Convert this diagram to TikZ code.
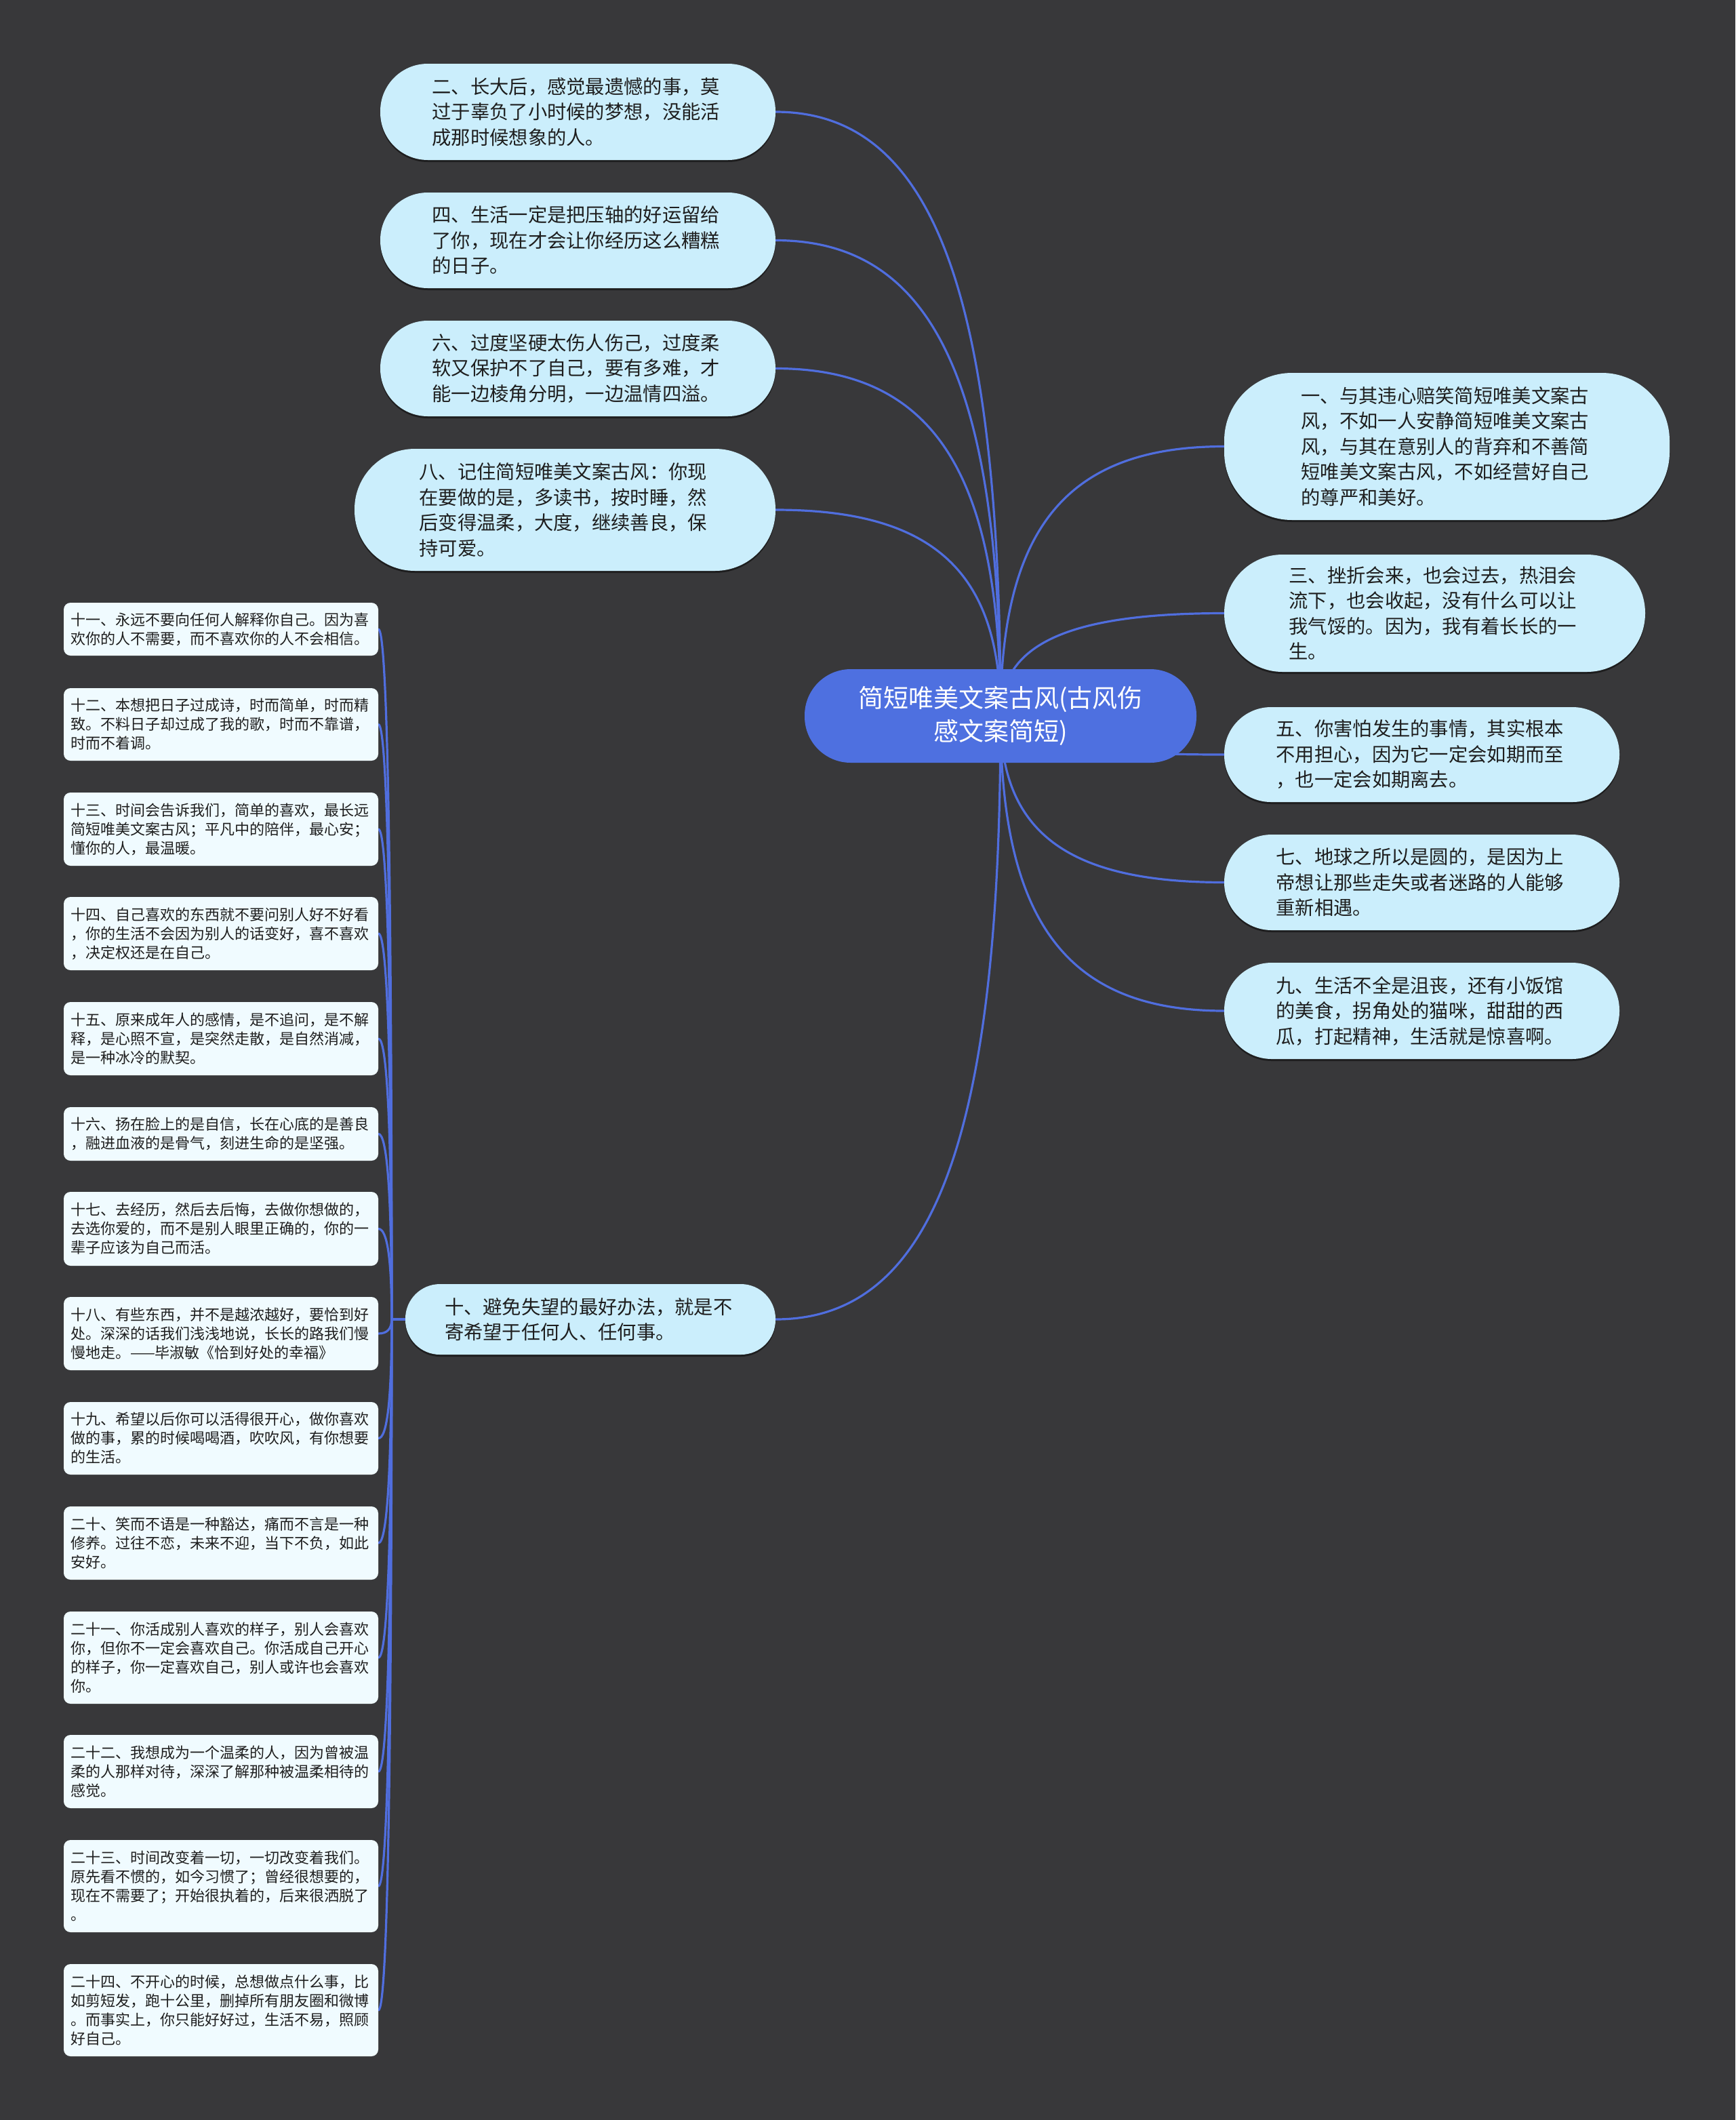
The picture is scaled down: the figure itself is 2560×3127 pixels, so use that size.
\documentclass[tikz,border=0pt]{standalone}
\usepackage{fontspec}
\setmainfont{Noto Sans CJK SC}
\usetikzlibrary{calc,shadows}
\definecolor{bgc}{RGB}{56,56,58}
\definecolor{rootc}{RGB}{78,112,224}
\definecolor{linkc}{RGB}{80,110,222}
\definecolor{bigc}{RGB}{203,238,252}
\definecolor{smallc}{RGB}{240,251,255}
\definecolor{txtc}{RGB}{30,30,30}
\pgfdeclarelayer{back}
\pgfdeclarelayer{links}
\pgfsetlayers{back,links,main}
\tikzset{
  rootbox/.style={rectangle, fill=rootc, text=white, inner sep=0pt, align=center,
    font=\fontsize{37}{49}\selectfont, minimum width=578pt, minimum height=138pt, rounded corners=68pt},
  bigbox/.style={rectangle, fill=bigc, text=txtc, inner sep=0pt, align=left, text width=430pt,
    font=\fontsize{28.3}{37.5}\selectfont,
    drop shadow={opacity=0.45, shadow xshift=0pt, shadow yshift=-3pt, fill=black}},
  smallbox/.style={rectangle, fill=smallc, text=txtc, inner sep=0pt, align=left, text width=444pt,
    font=\fontsize{22}{28}\selectfont, minimum width=464pt, rounded corners=10pt},
  conn/.style={draw=linkc, line width=3.2pt, line cap=round},
}
\newcommand\rootlink[1]{\draw[conn] (root.center) .. controls ($(root.center)!0.7!(root.center |- #1)$) and ($(#1)!0.7!(root.center |- #1)$) .. (#1);}
\newcommand\spinelink[1]{\draw[conn] (spine) .. controls ($(spine)!0.667!(spine |- #1.east)$) and ($(#1.east)!0.667!(spine |- #1.east)$) .. (#1.east);}
\begin{document}
\begin{tikzpicture}[x=1pt,y=-1pt]
\begin{pgfonlayer}{back}
\fill[bgc] (0,0) rectangle (2560,3127);
\end{pgfonlayer}
\useasboundingbox (0,0) rectangle (2560,3127);

% root
\node[rootbox] (root) at (1476,1056) {简短唯美文案古风(古风伤\\感文案简短)};

% top-left branches
\node[bigbox, rounded corners=70pt, minimum width=583pt, minimum height=142pt] (n2) at (852.5,165)
  {二、长大后，感觉最遗憾的事，莫\\过于辜负了小时候的梦想，没能活\\成那时候想象的人。};
\node[bigbox, rounded corners=70pt, minimum width=583pt, minimum height=141pt] (n4) at (852.5,354.5)
  {四、生活一定是把压轴的好运留给\\了你，现在才会让你经历这么糟糕\\的日子。};
\node[bigbox, rounded corners=70pt, minimum width=583pt, minimum height=141pt] (n6) at (852.5,543.5)
  {六、过度坚硬太伤人伤己，过度柔\\软又保护不了自己，要有多难，才\\能一边棱角分明，一边温情四溢。};
\node[bigbox, rounded corners=89pt, minimum width=621pt, minimum height=180pt] (n8) at (833.5,752)
  {八、记住简短唯美文案古风：你现\\在要做的是，多读书，按时睡，然\\后变得温柔，大度，继续善良，保\\持可爱。};
\node[bigbox, rounded corners=51pt, minimum width=546pt, minimum height=104pt] (n10) at (871,1946)
  {十、避免失望的最好办法，就是不\\寄希望于任何人、任何事。};

% right branches
\node[bigbox, rounded corners=100pt, minimum width=657pt, minimum height=217pt] (n1) at (2134.5,658.5)
  {一、与其违心赔笑简短唯美文案古\\风，不如一人安静简短唯美文案古\\风，与其在意别人的背弃和不善简\\短唯美文案古风，不如经营好自己\\的尊严和美好。};
\node[bigbox, rounded corners=86pt, minimum width=621pt, minimum height=173pt] (n3) at (2116.5,904.5)
  {三、挫折会来，也会过去，热泪会\\流下，也会收起，没有什么可以让\\我气馁的。因为，我有着长长的一\\生。};
\node[bigbox, rounded corners=69pt, minimum width=583pt, minimum height=140pt] (n5) at (2097.5,1113)
  {五、你害怕发生的事情，其实根本\\不用担心，因为它一定会如期而至\\，也一定会如期离去。};
\node[bigbox, rounded corners=70pt, minimum width=583pt, minimum height=141pt] (n7) at (2097.5,1301.5)
  {七、地球之所以是圆的，是因为上\\帝想让那些走失或者迷路的人能够\\重新相遇。};
\node[bigbox, rounded corners=70pt, minimum width=583pt, minimum height=142pt] (n9) at (2097.5,1491)
  {九、生活不全是沮丧，还有小饭馆\\的美食，拐角处的猫咪，甜甜的西\\瓜，打起精神，生活就是惊喜啊。};

% left leaves
\node[smallbox, minimum height=78pt] (c11) at (326,928)
  {十一、永远不要向任何人解释你自己。因为喜\\欢你的人不需要，而不喜欢你的人不会相信。};
\node[smallbox, minimum height=107pt] (c12) at (326,1068.5)
  {十二、本想把日子过成诗，时而简单，时而精\\致。不料日子却过成了我的歌，时而不靠谱，\\时而不着调。};
\node[smallbox, minimum height=108pt] (c13) at (326,1223)
  {十三、时间会告诉我们，简单的喜欢，最长远\\简短唯美文案古风；平凡中的陪伴，最心安；\\懂你的人，最温暖。};
\node[smallbox, minimum height=108pt] (c14) at (326,1377)
  {十四、自己喜欢的东西就不要问别人好不好看\\，你的生活不会因为别人的话变好，喜不喜欢\\，决定权还是在自己。};
\node[smallbox, minimum height=108pt] (c15) at (326,1532)
  {十五、原来成年人的感情，是不追问，是不解\\释，是心照不宣，是突然走散，是自然消减，\\是一种冰冷的默契。};
\node[smallbox, minimum height=79pt] (c16) at (326,1672.5)
  {十六、扬在脸上的是自信，长在心底的是善良\\，融进血液的是骨气，刻进生命的是坚强。};
\node[smallbox, minimum height=109pt] (c17) at (326,1812.5)
  {十七、去经历，然后去后悔，去做你想做的，\\去选你爱的，而不是别人眼里正确的，你的一\\辈子应该为自己而活。};
\node[smallbox, minimum height=108pt] (c18) at (326,1967)
  {十八、有些东西，并不是越浓越好，要恰到好\\处。深深的话我们浅浅地说，长长的路我们慢\\慢地走。——毕淑敏《恰到好处的幸福》};
\node[smallbox, minimum height=107pt] (c19) at (326,2121.5)
  {十九、希望以后你可以活得很开心，做你喜欢\\做的事，累的时候喝喝酒，吹吹风，有你想要\\的生活。};
\node[smallbox, minimum height=108pt] (c20) at (326,2276)
  {二十、笑而不语是一种豁达，痛而不言是一种\\修养。过往不恋，未来不迎，当下不负，如此\\安好。};
\node[smallbox, minimum height=136pt] (c21) at (326,2445)
  {二十一、你活成别人喜欢的样子，别人会喜欢\\你，但你不一定会喜欢自己。你活成自己开心\\的样子，你一定喜欢自己，别人或许也会喜欢\\你。};
\node[smallbox, minimum height=108pt] (c22) at (326,2613)
  {二十二、我想成为一个温柔的人，因为曾被温\\柔的人那样对待，深深了解那种被温柔相待的\\感觉。};
\node[smallbox, minimum height=136pt] (c23) at (326,2782)
  {二十三、时间改变着一切，一切改变着我们。\\原先看不惯的，如今习惯了；曾经很想要的，\\现在不需要了；开始很执着的，后来很洒脱了\\。};
\node[smallbox, minimum height=136pt] (c24) at (326,2965)
  {二十四、不开心的时候，总想做点什么事，比\\如剪短发，跑十公里，删掉所有朋友圈和微博\\。而事实上，你只能好好过，生活不易，照顾\\好自己。};

\coordinate (spine) at ($(n10.west)+(-20,0)$);

\begin{pgfonlayer}{links}
\rootlink{n2.east}
\rootlink{n4.east}
\rootlink{n6.east}
\rootlink{n8.east}
\rootlink{n10.east}
\rootlink{n1.west}
\rootlink{n3.west}
\rootlink{n5.west}
\rootlink{n7.west}
\rootlink{n9.west}
\draw[conn] (n10.west) -- (spine);
\foreach \c in {c11,c12,c13,c14,c15,c16,c17,c18,c19,c20,c21,c22,c23,c24} {\spinelink{\c}}
\end{pgfonlayer}
\end{tikzpicture}
\end{document}
